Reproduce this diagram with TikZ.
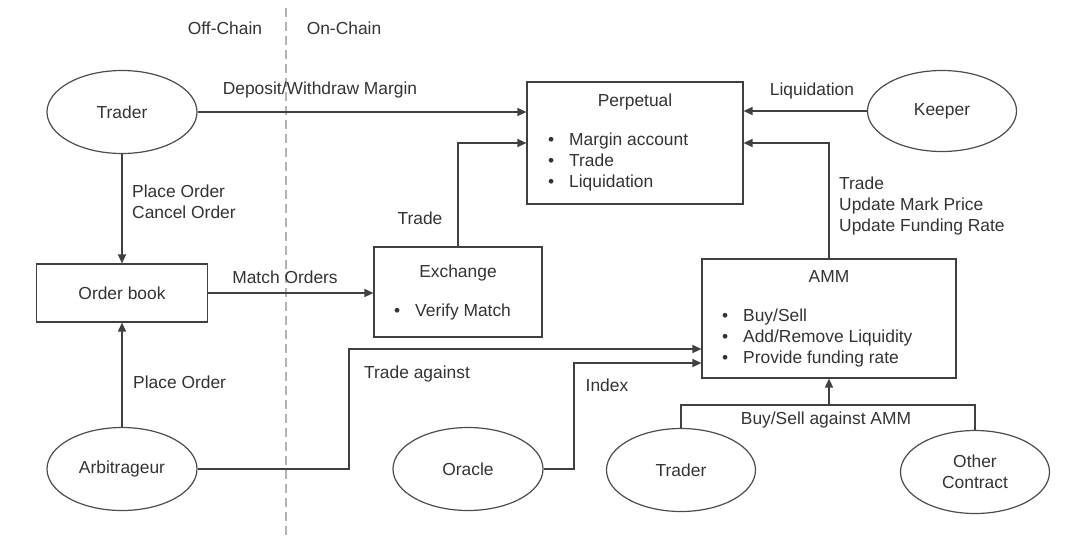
\documentclass[tikz,border=0pt]{standalone}
\usepackage{fontspec}
\setmainfont{Liberation Sans}
\usetikzlibrary{shapes.geometric,arrows.meta}
\newcommand\blt{\makebox[21pt][l]{\textbullet}}
\begin{document}
\begin{tikzpicture}[x=1pt, y=-1pt,
  every node/.style={font=\fontsize{17.4}{21}\selectfont, text=black!80},
  actor/.style={draw=black!70, line width=1.2pt, ellipse, inner sep=0pt, minimum width=150pt, minimum height=83pt, align=center},
  block/.style={draw=black!75, line width=1.2pt, rectangle, inner sep=0pt},
  link/.style={draw=black!75, line width=1.3pt},
  arr/.style={link, -{Triangle[length=9pt,width=8pt]}},
  lbl/.style={inner sep=0pt},
  items/.style={inner sep=0pt, anchor=west, align=left}]
\useasboundingbox (0,0) rectangle (1080,550);
\draw[black!30, line width=1.2pt, dash pattern=on 9pt off 5pt] (286,8) -- (286,535);
\node[lbl] (offc) at (225,28) {Off-Chain};
\node[lbl] (onc) at (344,28) {On-Chain};
\node[actor] (trader) at (122,112) {Trader};
\node[actor, minimum width=149pt, minimum height=81pt] (keeper) at (942,111) {Keeper};
\node[actor] (arb) at (122,469) {Arbitrageur};
\node[actor] (oracle) at (468,469) {Oracle};
\node[actor, minimum width=149pt] (trader2) at (681,470) {Trader};
\node[actor, minimum width=149pt] (other) at (975,472) {Other\\Contract};
\node[block, minimum width=216pt, minimum height=122pt] (perp) at (635,143) {};
\node[lbl] (perptitle) at (635,102) {Perpetual};
\node[items] (perpitems) at (548,162) {\blt Margin account\\\blt Trade\\\blt Liquidation};
\node[block, minimum width=168pt, minimum height=90pt] (exch) at (458,292) {};
\node[lbl] (exchtitle) at (458,273) {Exchange};
\node[items] (exchitems) at (394,312) {\blt Verify Match};
\node[block, minimum width=171pt, minimum height=58pt] (ob) at (122,293) {Order book};
\node[block, minimum width=254pt, minimum height=119pt] (amm) at (829,318.5) {};
\node[lbl] (ammtitle) at (829,277) {AMM};
\node[items] (ammitems) at (722,338) {\blt Buy/Sell\\\blt Add/Remove Liquidity\\\blt Provide funding rate};
\coordinate (tabend) at (349,349);
\coordinate (idxend) at (574,363);
\coordinate (fork) at (829,405);
\draw[arr] (trader) -- (trader -| perp.west);
\node[lbl] (deplbl) at (320,90) {Deposit/Withdraw Margin};
\draw[arr] (keeper) -- (keeper -| perp.east);
\node[lbl] (liqlbl) at (812,91) {Liquidation};
\draw[arr] (exch.north) |- (perp.west);
\node[lbl] (tradelbl) at (420,218) {Trade};
\draw[arr] (amm.north) |- (perp.east);
\node[items] (ammlbl) at (839,206) {Trade\\Update Mark Price\\Update Funding Rate};
\draw[arr] (trader) -- (ob);
\node[items] (placelbl) at (132,202) {Place Order\\Cancel Order};
\draw[arr] (arb) -- (ob);
\node[items] (place2lbl) at (133,382) {Place Order};
\draw[arr] (ob.east) -- (ob.east -| exch.west);
\node[lbl] (matchlbl) at (285,277) {Match Orders};
\draw[arr] (arb.east) -| (tabend) -- (tabend -| amm.west);
\node[lbl] (talbl) at (417,374) {Trade against};
\draw[arr] (oracle.east) -| (idxend) -- (idxend -| amm.west);
\node[lbl] (idxlbl) at (607,385) {Index};
\draw[link] (trader2.north) |- (fork) -| (other.north);
\draw[arr] (fork) -- (amm.south);
\node[lbl] (bslbl) at (826,420) {Buy/Sell against AMM};
\end{tikzpicture}
\end{document}
